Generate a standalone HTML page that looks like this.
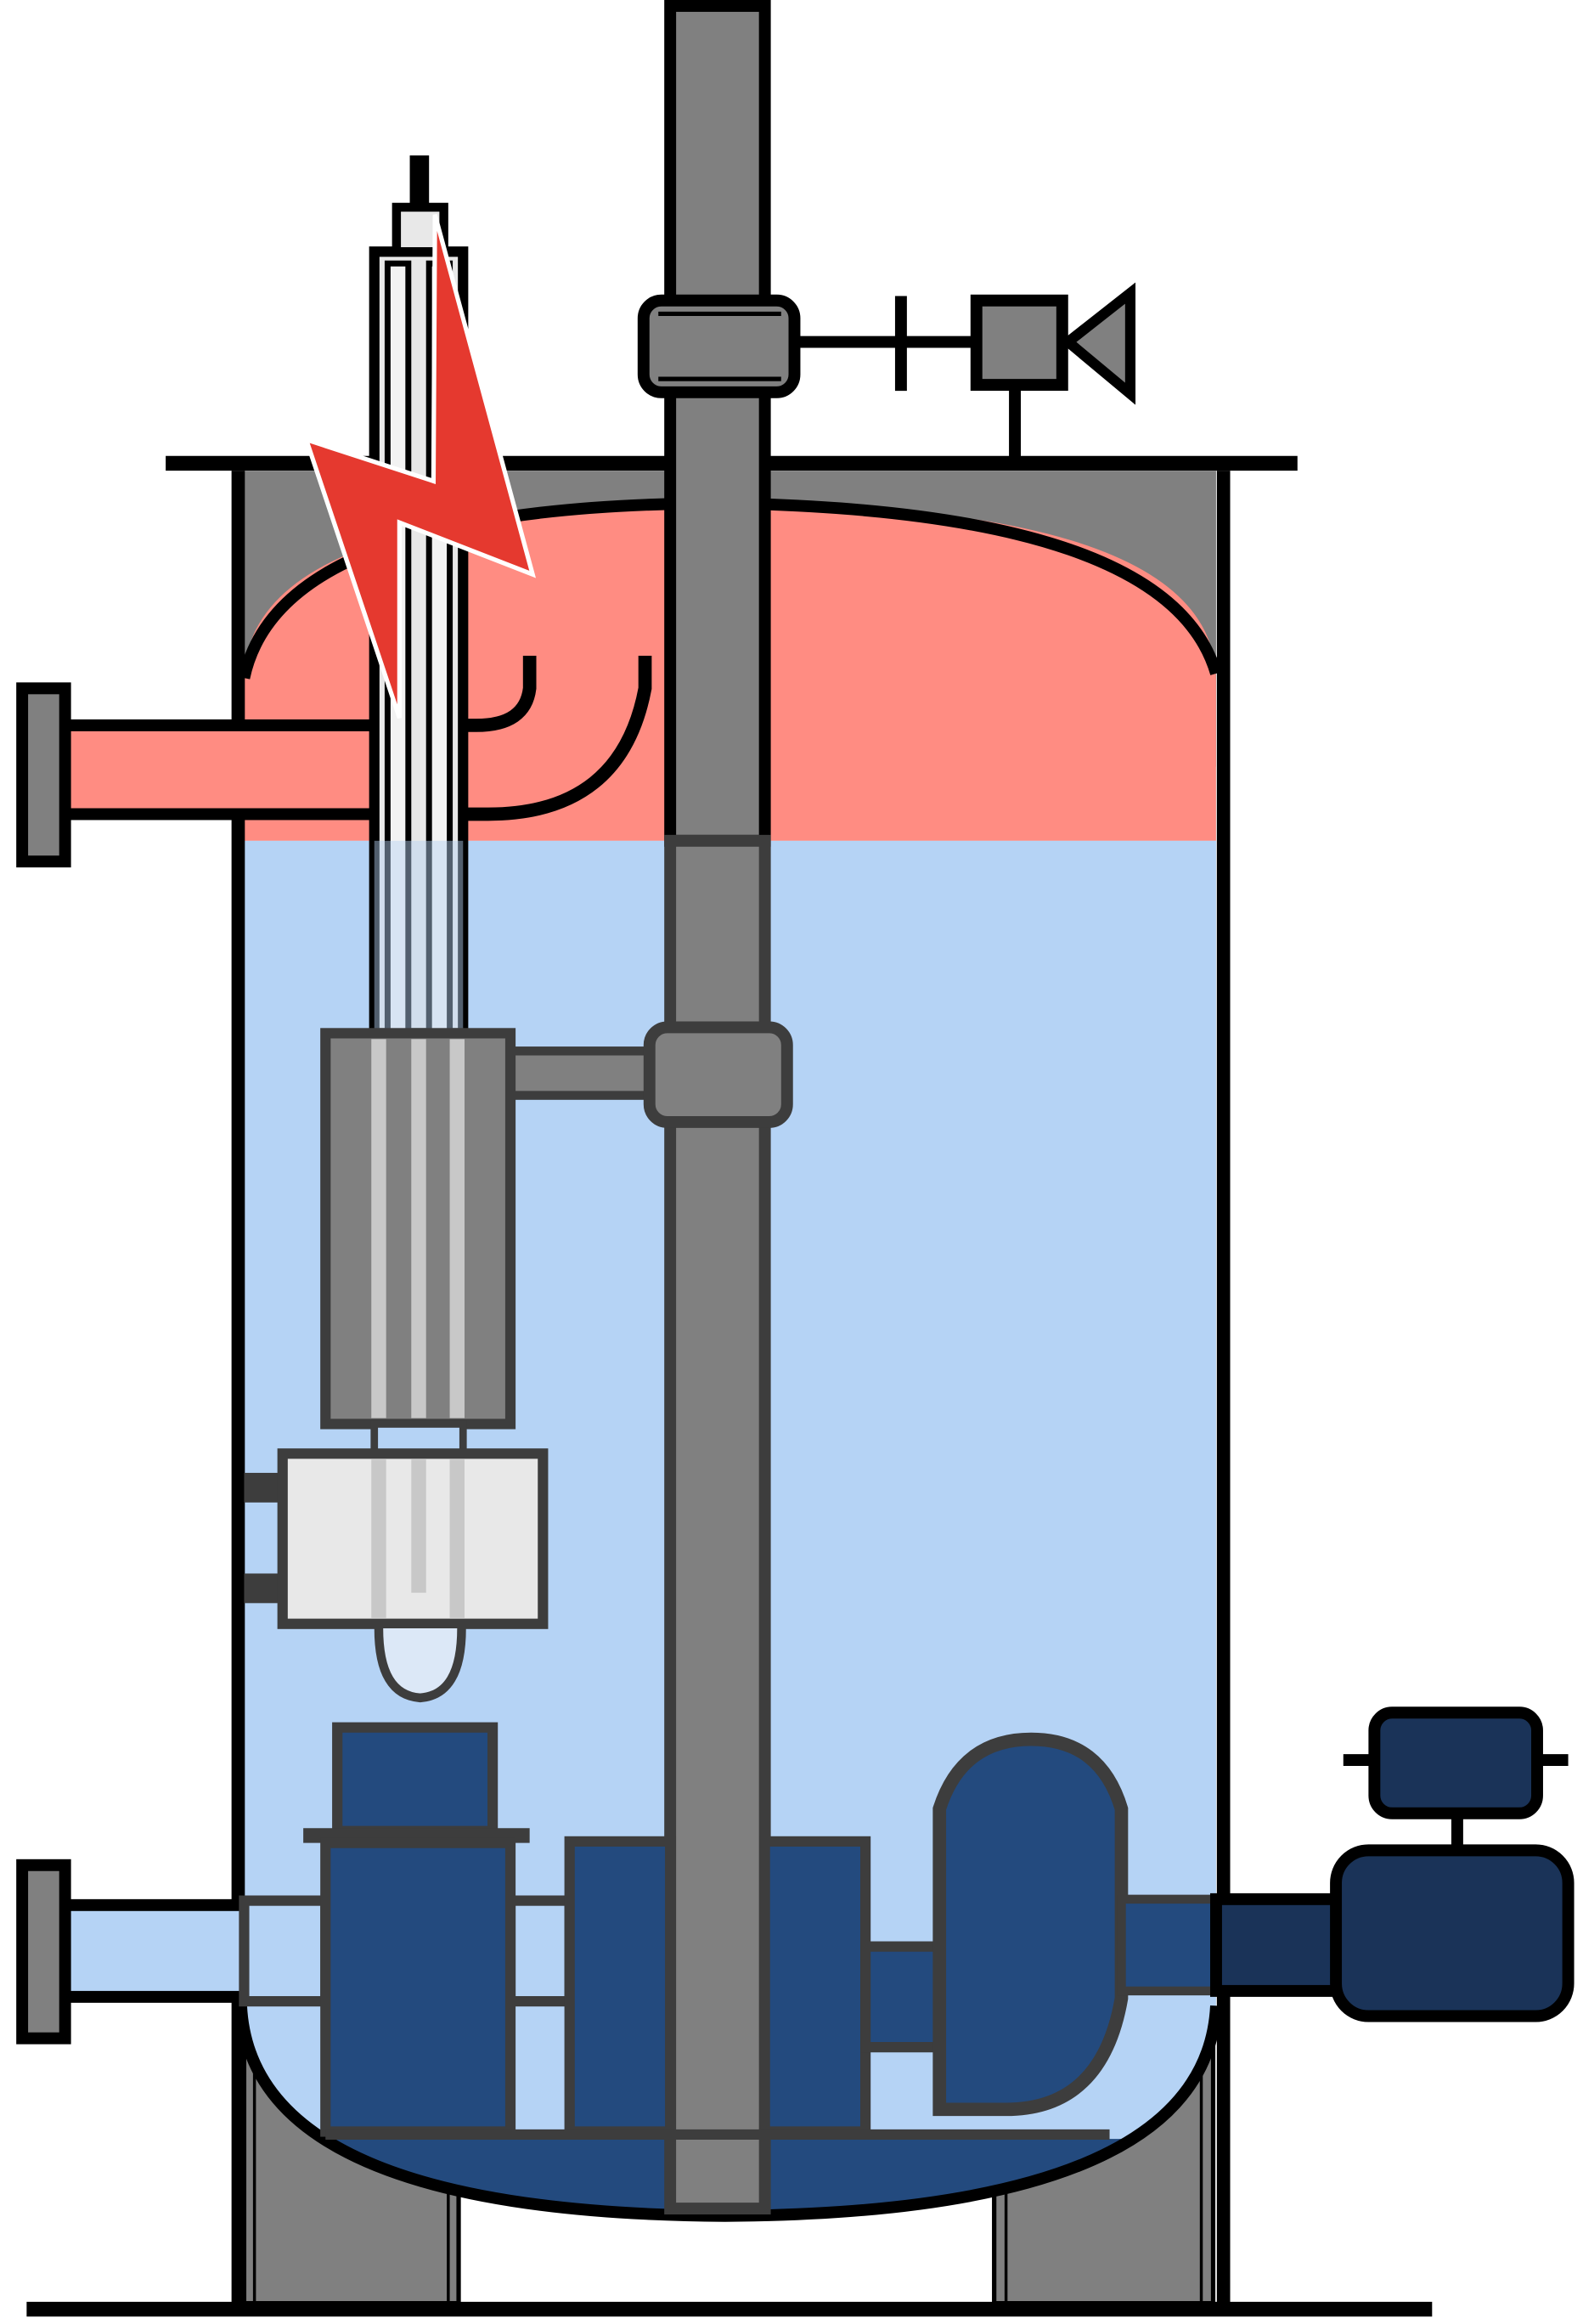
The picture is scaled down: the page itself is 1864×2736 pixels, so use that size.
<!DOCTYPE html>
<html><head><meta charset="utf-8"><style>html,body{margin:0;padding:0;background:#fff}svg{display:block}</style></head>
<body>
<svg width="1864" height="2736" viewBox="0 0 1070 1570" preserveAspectRatio="none" xmlns="http://www.w3.org/2000/svg">
<defs>
<clipPath id="vessel"><path d="M165 318 H822 V1350 Q822 1495 490 1495 Q165 1495 165 1350 Z"/></clipPath>
</defs>
<!-- legs -->
<rect x="165" y="1370" width="145" height="186" fill="#808080" stroke="#000" stroke-width="3"/>
<rect x="672" y="1370" width="148" height="186" fill="#808080" stroke="#000" stroke-width="3"/>
<line x1="172" y1="1380" x2="172" y2="1555" stroke="#000" stroke-width="2"/>
<line x1="303" y1="1480" x2="303" y2="1555" stroke="#000" stroke-width="2"/>
<line x1="680" y1="1480" x2="680" y2="1555" stroke="#000" stroke-width="2"/>
<line x1="812" y1="1380" x2="812" y2="1555" stroke="#000" stroke-width="2"/>
<!-- vessel interior -->
<g clip-path="url(#vessel)">
<rect x="160" y="318" width="670" height="200" fill="#808080"/>
<path d="M165 460 Q165 340 490 340 Q822 340 822 460 V568 H165 Z" fill="#ff8c82"/>
<rect x="160" y="568" width="670" height="940" fill="#b5d3f5"/>
<path d="M165 1350 Q165 1495 490 1495 Q822 1495 822 1350 V1440 H165 Z" fill="#b5d3f5"/>
<path d="M200 1445 H760 Q700 1495 490 1495 Q290 1495 200 1445 Z" fill="#234a7e"/>
</g>
<!-- dome line -->
<path d="M165 458 Q190 340 490 340 Q790 345 822 455" fill="none" stroke="#000" stroke-width="8"/>
<!-- bottom dish -->
<path d="M163 1355 Q170 1495 490 1497 Q815 1495 822 1355" fill="none" stroke="#000" stroke-width="8"/>
<!-- walls -->
<line x1="161" y1="318" x2="161" y2="1560" stroke="#000" stroke-width="9"/>
<line x1="827" y1="318" x2="827" y2="1560" stroke="#000" stroke-width="9"/>
<!-- top line and ground -->
<line x1="112" y1="313" x2="877" y2="313" stroke="#000" stroke-width="10"/>
<line x1="18" y1="1560" x2="968" y2="1560" stroke="#000" stroke-width="10"/>
<!-- left top inlet -->
<rect x="40" y="490" width="215" height="60" fill="#ff8c82" stroke="#000" stroke-width="8"/>
<rect x="15" y="465" width="29" height="117" fill="#808080" stroke="#000" stroke-width="8"/>
<!-- J pipe -->
<path d="M313 490 H322 Q355 490 358 465 V443" fill="none" stroke="#000" stroke-width="9"/>
<path d="M313 550 H330 Q420 550 436 465 V443" fill="none" stroke="#000" stroke-width="9"/>
<!-- heater rods -->
<rect x="253" y="170" width="60" height="528" fill="#e8e8e8" stroke="#000" stroke-width="7"/>
<rect x="268" y="140" width="32" height="30" fill="#e8e8e8" stroke="#000" stroke-width="6"/>
<rect x="277" y="105" width="13" height="35" fill="#000"/>
<rect x="262" y="178" width="14" height="520" fill="#f2f2f2" stroke="#000" stroke-width="4"/>
<rect x="290" y="178" width="14" height="520" fill="#f2f2f2" stroke="#000" stroke-width="4"/>
<rect x="253" y="568" width="60" height="130" fill="#b5d3f5" opacity="0.45"/>
<!-- shaft -->
<rect x="453" y="4" width="64" height="564" fill="#808080" stroke="#000" stroke-width="8"/>
<rect x="453" y="568" width="64" height="924" fill="#808080" stroke="#3d3d3d" stroke-width="8"/>
<line x1="453" y1="1442" x2="517" y2="1442" stroke="#3d3d3d" stroke-width="5"/>
<!-- top collar & valve -->
<rect x="435" y="203" width="102" height="62" rx="12" fill="#808080" stroke="#000" stroke-width="8"/>
<line x1="445" y1="212" x2="528" y2="212" stroke="#000" stroke-width="3"/>
<line x1="445" y1="256" x2="528" y2="256" stroke="#000" stroke-width="3"/>
<line x1="537" y1="231" x2="660" y2="231" stroke="#000" stroke-width="8"/>
<line x1="609" y1="200" x2="609" y2="264" stroke="#000" stroke-width="8"/>
<rect x="660" y="203" width="58" height="57" fill="#808080" stroke="#000" stroke-width="8"/>
<polygon points="722,231 764,198 764,266" fill="#808080" stroke="#000" stroke-width="7"/>
<line x1="686" y1="260" x2="686" y2="313" stroke="#000" stroke-width="8"/>
<!-- lower collar & arm -->
<rect x="345" y="710" width="95" height="30" fill="#808080" stroke="#3d3d3d" stroke-width="6"/>
<rect x="439" y="694" width="93" height="64" rx="12" fill="#808080" stroke="#3d3d3d" stroke-width="8"/>
<!-- gray heater block -->
<rect x="220" y="698" width="125" height="264" fill="#808080" stroke="#3d3d3d" stroke-width="7"/>
<rect x="251" y="702" width="10" height="256" fill="#c8c8c8"/>
<rect x="278" y="702" width="10" height="256" fill="#c8c8c8"/>
<rect x="304" y="702" width="10" height="256" fill="#c8c8c8"/>
<rect x="253" y="962" width="60" height="22" fill="#b5d3f5"/>
<rect x="253" y="962" width="60" height="22" fill="none" stroke="#3d3d3d" stroke-width="5"/>
<!-- white block -->
<rect x="165" y="995" width="28" height="20" fill="#3d3d3d"/>
<rect x="165" y="1063" width="28" height="20" fill="#3d3d3d"/>
<rect x="191" y="982" width="176" height="115" fill="#e8e8e8" stroke="#3d3d3d" stroke-width="7"/>
<rect x="251" y="986" width="10" height="107" fill="#c8c8c8"/>
<rect x="278" y="986" width="10" height="90" fill="#c8c8c8"/>
<rect x="304" y="986" width="10" height="107" fill="#c8c8c8"/>
<path d="M256 1100 Q256 1145 284 1147 Q312 1145 312 1100" fill="#dce8f7" stroke="#3d3d3d" stroke-width="6"/>
<!-- lightning bolt -->
<polygon points="294,145 360,388 270,353 270,485 207,297 293,325" fill="#e5392f" stroke="#fff" stroke-width="3"/>
<!-- bottom left inlet -->
<rect x="40" y="1287" width="180" height="62" fill="#b5d3f5" stroke="#000" stroke-width="8"/>
<rect x="165" y="1284" width="55" height="68" fill="#b5d3f5" stroke="#3d3d3d" stroke-width="7"/>
<rect x="15" y="1260" width="29" height="117" fill="#808080" stroke="#000" stroke-width="8"/>
<!-- pump -->
<rect x="345" y="1284" width="40" height="68" fill="#b5d3f5" stroke="#3d3d3d" stroke-width="7"/>
<rect x="228" y="1167" width="105" height="70" fill="#234a7e" stroke="#3d3d3d" stroke-width="7"/>
<line x1="205" y1="1240" x2="358" y2="1240" stroke="#3d3d3d" stroke-width="10"/>
<rect x="220" y="1245" width="125" height="195" fill="#234a7e" stroke="#3d3d3d" stroke-width="7"/>
<rect x="385" y="1244" width="68" height="196" fill="#234a7e" stroke="#3d3d3d" stroke-width="7"/>
<rect x="517" y="1244" width="68" height="196" fill="#234a7e" stroke="#3d3d3d" stroke-width="7"/>
<rect x="585" y="1315" width="50" height="68" fill="#234a7e" stroke="#3d3d3d" stroke-width="7"/>
<line x1="220" y1="1442" x2="750" y2="1442" stroke="#3d3d3d" stroke-width="7"/>
<path d="M635 1425 V1222 Q650 1175 697 1175 Q744 1175 758 1222 V1350 Q745 1425 680 1425 Z" fill="#234a7e" stroke="#3d3d3d" stroke-width="9"/>
<rect x="758" y="1283" width="64" height="62" fill="#234a7e" stroke="#3d3d3d" stroke-width="6"/>
<rect x="822" y="1283" width="85" height="62" fill="#1a3358" stroke="#000" stroke-width="8"/>
<rect x="903" y="1250" width="157" height="112" rx="22" fill="#1a3358" stroke="#000" stroke-width="8"/>
<line x1="985" y1="1225" x2="985" y2="1250" stroke="#000" stroke-width="8"/>
<rect x="929" y="1157" width="110" height="68" rx="12" fill="#1a3358" stroke="#000" stroke-width="8"/>
<line x1="908" y1="1189" x2="929" y2="1189" stroke="#000" stroke-width="8"/>
<line x1="1039" y1="1189" x2="1060" y2="1189" stroke="#000" stroke-width="8"/>
</svg>
</body></html>
